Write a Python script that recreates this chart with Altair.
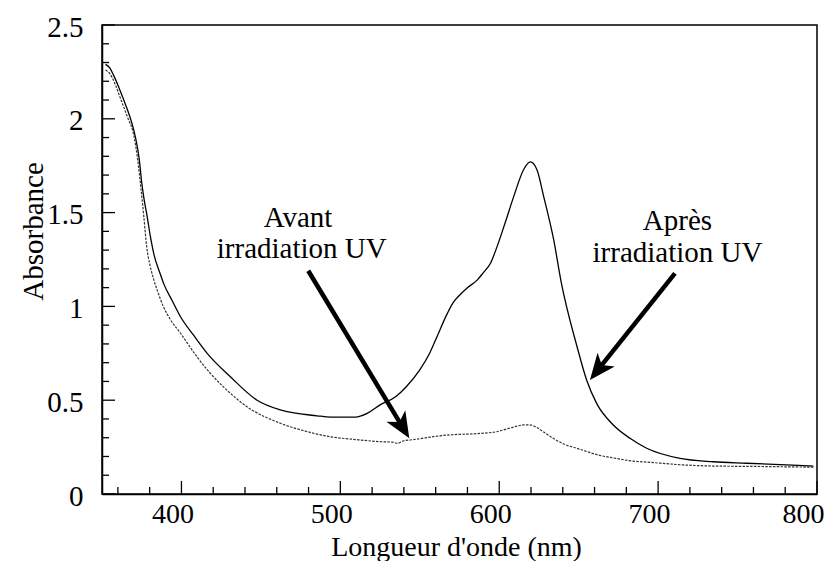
import math
import altair as alt
import pandas as pd

# ---- data ----
wl_apres = [352.2, 355, 357.4, 360.5, 363.7, 366.8, 370, 371.8, 373.5, 375, 376.5, 378.4,
            380.5, 382.6, 386.8, 388.9, 394.2, 399.4, 407.5, 416.2, 430.8, 447.6, 462.3,
            485.4, 493.8, 509.5, 516.9, 525, 535, 541.5, 549.9, 556.2, 560.9, 567.2, 571,
            575.6, 580, 586.1, 590, 594.5, 598.7, 603.9, 609.1, 615.4, 619.6, 623.8, 628,
            634.3, 639, 649, 655, 661.3, 671.8, 682.3, 692.8, 713.8, 734.7, 755.7, 797.7]
abs_apres = [2.29, 2.27, 2.23, 2.17, 2.10, 2.03, 1.94, 1.87, 1.78, 1.66, 1.57, 1.48,
             1.37, 1.28, 1.17, 1.12, 1.03, 0.945, 0.848, 0.75, 0.625, 0.50, 0.448,
             0.417, 0.41, 0.41, 0.43, 0.475, 0.52, 0.572, 0.66, 0.75, 0.84, 0.96, 1.02,
             1.065, 1.10, 1.14, 1.18, 1.23, 1.32, 1.45, 1.585, 1.73, 1.77, 1.727, 1.585,
             1.354, 1.13, 0.785, 0.608, 0.483, 0.368, 0.297, 0.244, 0.19, 0.172, 0.164, 0.149]

wl_avant = [352.2, 355, 358, 362, 366, 370.2, 372.5, 374.5, 376.3, 378.1, 380.2, 382.3,
            385, 388.6, 393, 399.4, 409.9, 418, 426.6, 441.3, 462.3, 478, 493.8, 510,
            525, 533, 536, 540, 544, 567, 588, 598.4, 607, 615.2, 619, 623.6, 628, 634,
            641, 648.8, 663.7, 672, 684.6, 692.8, 716, 734.7, 760, 798]
abs_avant = [2.26, 2.24, 2.19, 2.10, 2.01, 1.905, 1.78, 1.63, 1.48, 1.32, 1.22, 1.15,
             1.08, 1.00, 0.93, 0.857, 0.73, 0.645, 0.57, 0.465, 0.377, 0.335, 0.305, 0.29,
             0.279, 0.276, 0.27, 0.284, 0.288, 0.314, 0.323, 0.332, 0.352, 0.368, 0.369, 0.355, 0.33, 0.297,
             0.265, 0.244, 0.205, 0.192, 0.175, 0.17, 0.155, 0.149, 0.147, 0.143]

x_major = [400, 500, 600, 700, 800]
x_minor = [360, 380, 420, 440, 460, 480, 520, 540, 560, 580, 620, 640, 660, 680,
           720, 740, 760, 780]
y_major = [0, 0.5, 1, 1.5, 2, 2.5]
y_minor = [0.1, 0.2, 0.3, 0.4, 0.6, 0.7, 0.8, 0.9, 1.1, 1.2, 1.3, 1.4, 1.6, 1.7, 1.8,
           1.9, 2.1, 2.2, 2.3, 2.4]

ann_text = ["Avant", "irradiation UV", "Après", "irradiation UV"]
ann_wl = [473.4, 475.7, 712.2, 712.2]
ann_abs = [1.423, 1.258, 1.407, 1.238]

arrow_start_wl = [479.8, 710.6]
arrow_start_abs = [1.190, 1.176]
arrow_tip_wl = [543.4, 657.1]
arrow_tip_abs = [0.297, 0.608]

# ---- layout / style ----
W, H = 715, 469
X_DOMAIN = [350, 800]
Y_DOMAIN = [0, 2.5]
FONT = "Liberation Serif"
FS = 29
LFS = 28
PX_PER_WL = W / (X_DOMAIN[1] - X_DOMAIN[0])
PX_PER_ABS = H / (Y_DOMAIN[1] - Y_DOMAIN[0])
HEAD_BACK = 15  # px the shaft stops before the tip

xs = alt.Scale(domain=X_DOMAIN, nice=False, zero=False)
ys = alt.Scale(domain=Y_DOMAIN, nice=False, zero=False)

x_axis = alt.Axis(values=x_major, format="d", ticks=False, tickSize=0, tickOffset=-9,
                  grid=False, labelFlush=True, labelFlushOffset=16,
                  domainColor="black", domainWidth=1.5, labelFont=FONT, labelFontSize=LFS,
                  labelColor="black", labelPadding=6,
                  title="Longueur d'onde (nm)", titleFont=FONT, titleFontSize=LFS,
                  titleFontWeight="normal", titleColor="black", titleX=354, titleY=61,
                  titleBaseline="alphabetic", titleAlign="center")
y_axis = alt.Axis(values=y_major, format="~g", ticks=False, tickSize=0, tickOffset=2,
                  grid=False, labelFlush=False,
                  domainColor="black", domainWidth=1.5, labelFont=FONT, labelFontSize=FS,
                  labelColor="black", labelPadding=19,
                  title="Absorbance", titleFont=FONT, titleFontSize=FS,
                  titleFontWeight="normal", titleColor="black", titleX=-60, titleY=206,
                  titleBaseline="alphabetic", titleAlign="center", titleAngle=270)


def X(f):
    return alt.X(f, type="quantitative", scale=xs, axis=x_axis)


def Y(f):
    return alt.Y(f, type="quantitative", scale=ys, axis=y_axis)


df_apres = pd.DataFrame({"wl": wl_apres, "a": abs_apres})
df_avant = pd.DataFrame({"wl": wl_avant, "a": abs_avant})

apres = alt.Chart(df_apres).mark_line(color="black", strokeWidth=1.3, interpolate="monotone").encode(
    x=X("wl"), y=Y("a"))
avant = alt.Chart(df_avant).mark_line(color="#333333", strokeWidth=1.2, strokeDash=[2.5, 1.3],
                                      interpolate="monotone").encode(x=X("wl"), y=Y("a"))

# inward ticks
xt_major = alt.Chart(pd.DataFrame({"wl": x_major})).mark_rule(color="black", strokeWidth=1.3).encode(
    x=X("wl"), y=alt.value(H), y2=alt.value(H - 13))
xt_minor = alt.Chart(pd.DataFrame({"wl": x_minor})).mark_rule(color="black", strokeWidth=1.3).encode(
    x=X("wl"), y=alt.value(H), y2=alt.value(H - 7))
yt_major = alt.Chart(pd.DataFrame({"a": y_major})).mark_rule(color="black", strokeWidth=1.3).encode(
    y=Y("a"), x=alt.value(0), x2=alt.value(13))
yt_minor = alt.Chart(pd.DataFrame({"a": y_minor})).mark_rule(color="black", strokeWidth=1.3).encode(
    y=Y("a"), x=alt.value(0), x2=alt.value(7))

# arrows
rows = []
for sw, sa, tw, ta in zip(arrow_start_wl, arrow_start_abs, arrow_tip_wl, arrow_tip_abs):
    dx = (tw - sw) * PX_PER_WL
    dy = -(ta - sa) * PX_PER_ABS
    L = math.hypot(dx, dy)
    ux, uy = dx / L, dy / L
    ang = math.degrees(math.atan2(dx, -dy)) % 360
    rows.append({"wl": sw, "a": sa, "tw": tw, "ta": ta,
                 "ew": tw - HEAD_BACK * ux / PX_PER_WL,
                 "ea": ta + HEAD_BACK * uy / PX_PER_ABS,
                 "angle": ang})
df_arrow = pd.DataFrame(rows)

shafts = alt.Chart(df_arrow).mark_rule(color="black", strokeWidth=4.5, strokeCap="butt").encode(
    x=X("wl"), y=Y("a"), x2="ew:Q", y2="ea:Q")
heads = alt.Chart(df_arrow).transform_calculate(wl="datum.tw", a="datum.ta").mark_point(
    shape="M0,0 L0.55,1.3 L0,0.95 L-0.55,1.3 Z", filled=True, size=1600,
    color="black", opacity=1, strokeWidth=0).encode(
    x=X("wl"), y=Y("a"), angle=alt.Angle("angle:Q", scale=None))

df_ann = pd.DataFrame({"t": ann_text, "wl": ann_wl, "a": ann_abs})
texts = alt.Chart(df_ann).mark_text(font=FONT, fontSize=FS, align="center",
                                    baseline="alphabetic", color="black").encode(
    x=X("wl"), y=Y("a"), text="t:N")

chart = alt.layer(apres, avant, xt_major, xt_minor, yt_major, yt_minor, shafts, heads, texts).properties(
    width=W, height=H,
    padding={"left": 94, "top": 17, "right": 7, "bottom": 67},
    autosize=alt.AutoSizeParams(type="none"),
).configure_view(stroke="black", strokeWidth=1.5)

chart.save("out.html", embed_options={"renderer": "svg", "actions": False})
